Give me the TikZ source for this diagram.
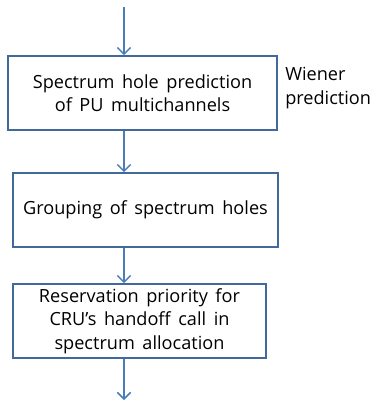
\documentclass[tikz,border=0pt]{standalone}
\usepackage{fontspec}
\setmainfont[WordSpace={1.6,1,1}]{Open Sans}
\usetikzlibrary{arrows.meta}
\definecolor{lc}{HTML}{4A7EBB}
\definecolor{bc}{HTML}{41699A}
\tikzset{
  box/.style={draw=bc, line width=1.6pt*0.75, rectangle, inner sep=0pt, align=center, font=\fontsize{13.6}{17.6}\selectfont, text=black},
  arr/.style={draw=lc, line width=1.5pt*0.75, -{Straight Barb[length=5pt,width=10pt,line width=1.1pt]}},
}
\begin{document}
\begin{tikzpicture}[x=0.75pt,y=-0.75pt]
\useasboundingbox (0,0) rectangle (373,403);
\node[box, minimum width=269*0.75pt, minimum height=74*0.75pt] (b1) at (142.5,93) {Spectrum hole prediction\\of PU multichannels};
\node[box, minimum width=265*0.75pt, minimum height=74*0.75pt] (b2) at (145.5,210) {Grouping of spectrum holes};
\node[box, minimum width=253*0.75pt, minimum height=74*0.75pt] (b3) at (139.5,321) {Reservation priority for\\CRU’s handoff call in\\spectrum allocation};
\node[anchor=north west, align=left, inner sep=0pt, font=\fontsize{13.6}{17.6}\selectfont] (w) at (285,67) {Wiener\\prediction};
\coordinate (t) at (124,7);
\coordinate (e) at (124,400);
\draw[arr] (t) -- (t |- b1.north);
\draw[arr] (b1.south -| t) -- (t |- b2.north);
\draw[arr] (b2.south -| t) -- (t |- b3.north);
\draw[arr] (b3.south -| t) -- (e);
\end{tikzpicture}
\end{document}
